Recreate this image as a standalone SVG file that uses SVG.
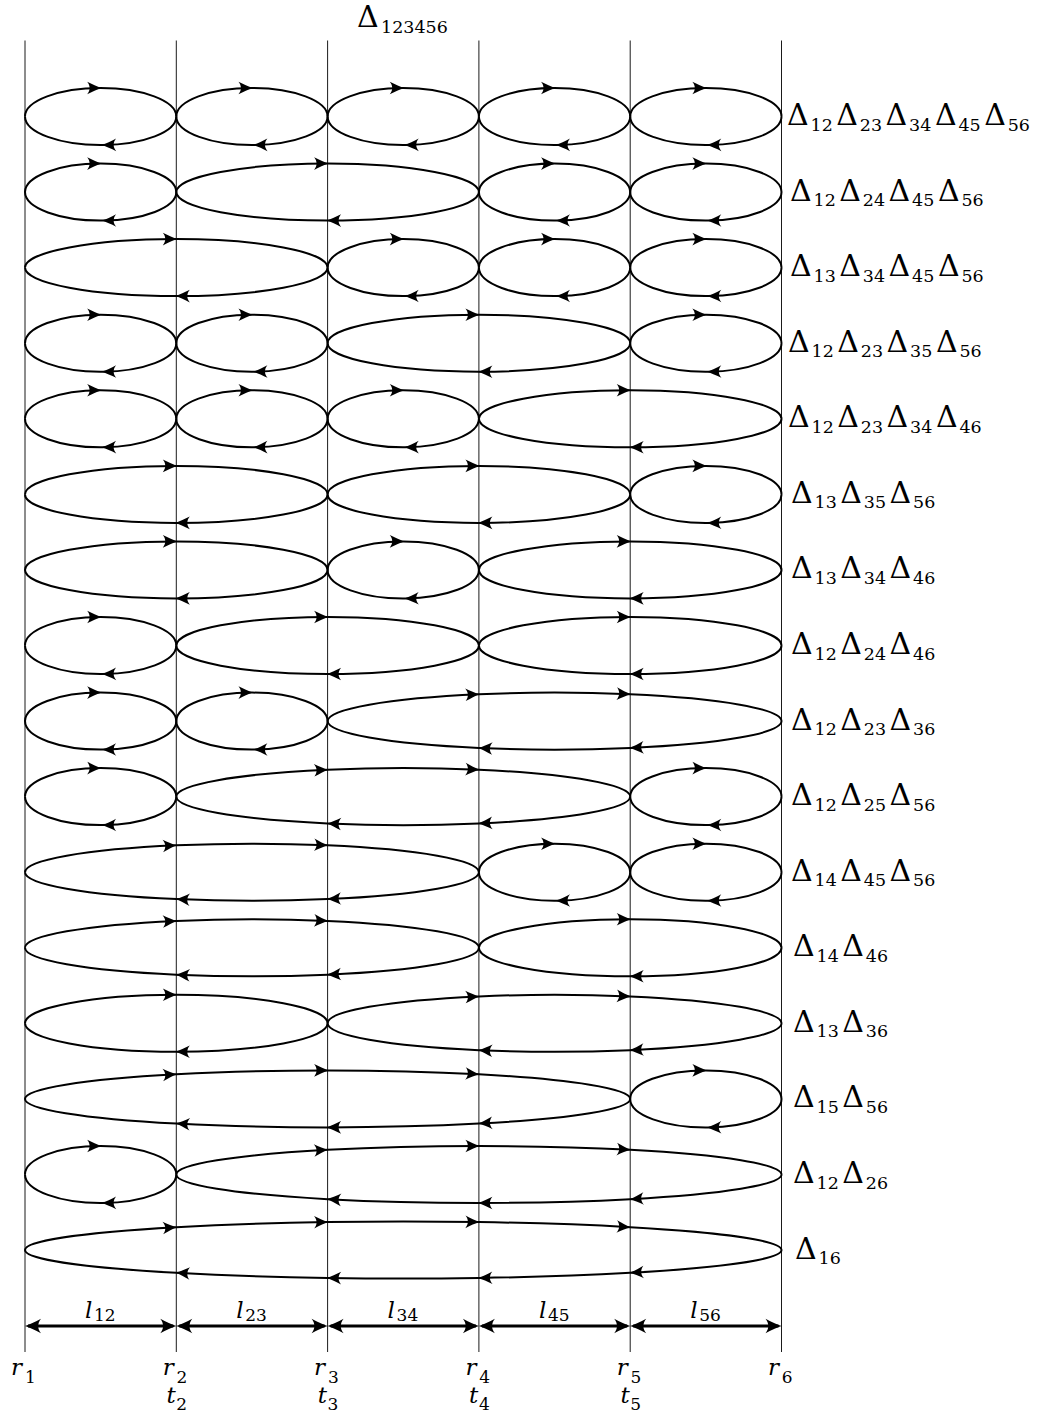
<svg xmlns="http://www.w3.org/2000/svg" width="1049" height="1414" viewBox="0 0 1049 1414">
<style>
.el{fill:none;stroke:#000;stroke-width:2;marker-mid:url(#ah)}
.vl{stroke:#000;stroke-width:0.9}
.dim{stroke:#000;stroke-width:3;marker-start:url(#dh);marker-end:url(#dh)}
.d{font-size:30px}
.s{font-size:17.5px}
.i{font-style:italic;font-size:23px}
.si{font-size:17px}
text{fill:#000}
</style>
<defs>
<marker id="ah" markerUnits="userSpaceOnUse" orient="auto" refX="0" refY="0" markerWidth="20" markerHeight="20" overflow="visible">
<path d="M0.8,0 C-3.5,-1.3 -8.5,-3.8 -13.5,-6.3 C-10.2,-2.4 -10.2,2.4 -13.5,6.3 C-8.5,3.8 -3.5,1.3 0.8,0 Z" fill="#000"/>
</marker>
<marker id="dh" markerUnits="userSpaceOnUse" orient="auto-start-reverse" refX="0" refY="0" markerWidth="20" markerHeight="20" overflow="visible">
<path d="M3,0 C-1,-1.4 -7.5,-4.3 -13,-7.3 C-9.3,-2.6 -9.3,2.6 -13,7.3 C-7.5,4.3 -1,1.4 3,0 Z" fill="#000"/>
</marker>
<g id="e1">
<path class="el" d="M0,0 A75.65,28.5 0 0 1 75.65,-28.5 A75.65,28.5 0 0 1 151.3,0"/>
<path class="el" d="M151.3,0 A75.65,28.5 0 0 1 77.65,28.49 A75.65,28.5 0 0 1 0,0"/>
</g>
<g id="e2">
<path class="el" d="M0,0 A151.3,28.5 0 0 1 151.3,-28.5 A151.3,28.5 0 0 1 302.6,0"/>
<path class="el" d="M302.6,0 A151.3,28.5 0 0 1 151.3,28.5 A151.3,28.5 0 0 1 0,0"/>
</g>
<g id="e3">
<path class="el" d="M0,0 A226.95,28.5 0 0 1 151.3,-26.87 A226.95,28.5 0 0 1 302.6,-26.87 A226.95,28.5 0 0 1 453.9,0"/>
<path class="el" d="M453.9,0 A226.95,28.5 0 0 1 302.6,26.87 A226.95,28.5 0 0 1 151.3,26.87 A226.95,28.5 0 0 1 0,0"/>
</g>
<g id="e4">
<path class="el" d="M0,0 A302.6,28.5 0 0 1 151.3,-24.68 A302.6,28.5 0 0 1 302.6,-28.5 A302.6,28.5 0 0 1 453.9,-24.68 A302.6,28.5 0 0 1 605.2,0"/>
<path class="el" d="M605.2,0 A302.6,28.5 0 0 1 453.9,24.68 A302.6,28.5 0 0 1 302.6,28.5 A302.6,28.5 0 0 1 151.3,24.68 A302.6,28.5 0 0 1 0,0"/>
</g>
<g id="e5">
<path class="el" d="M0,0 A378.25,28.5 0 0 1 151.3,-22.8 A378.25,28.5 0 0 1 302.6,-27.92 A378.25,28.5 0 0 1 453.9,-27.92 A378.25,28.5 0 0 1 605.2,-22.8 A378.25,28.5 0 0 1 756.5,0"/>
<path class="el" d="M756.5,0 A378.25,28.5 0 0 1 605.2,22.8 A378.25,28.5 0 0 1 453.9,27.92 A378.25,28.5 0 0 1 302.6,27.92 A378.25,28.5 0 0 1 151.3,22.8 A378.25,28.5 0 0 1 0,0"/>
</g>
</defs>
<rect width="1049" height="1414" fill="#fff"/>

<g id="grid">
<line class="vl" x1="25" y1="40.5" x2="25" y2="1352"/>
<line class="vl" x1="176.3" y1="40.5" x2="176.3" y2="1352"/>
<line class="vl" x1="327.6" y1="40.5" x2="327.6" y2="1352"/>
<line class="vl" x1="478.9" y1="40.5" x2="478.9" y2="1352"/>
<line class="vl" x1="630.2" y1="40.5" x2="630.2" y2="1352"/>
<line class="vl" x1="781.5" y1="40.5" x2="781.5" y2="1352"/>
</g>

<g id="labels">
<g id="title"><text font-family="'DejaVu Serif', serif"><tspan class="d" x="357" y="27">Δ</tspan><tspan class="s" x="381" y="32.5">123456</tspan></text></g>

<g id="row1" transform="translate(0,116.5)">
<use href="#e1" x="25"/><use href="#e1" x="176.3"/><use href="#e1" x="327.6"/><use href="#e1" x="478.9"/><use href="#e1" x="630.2"/>
<text font-family="'DejaVu Serif', serif"><tspan class="d" x="787" y="8.5">Δ</tspan><tspan class="s" x="810.5" y="14">12</tspan><tspan class="d" x="836.3" y="8.5">Δ</tspan><tspan class="s" x="859.8" y="14">23</tspan><tspan class="d" x="885.6" y="8.5">Δ</tspan><tspan class="s" x="909.1" y="14">34</tspan><tspan class="d" x="934.9" y="8.5">Δ</tspan><tspan class="s" x="958.4" y="14">45</tspan><tspan class="d" x="984.2" y="8.5">Δ</tspan><tspan class="s" x="1007.7" y="14">56</tspan></text>
</g>
<g id="row2" transform="translate(0,192.1)">
<use href="#e1" x="25"/><use href="#e2" x="176.3"/><use href="#e1" x="478.9"/><use href="#e1" x="630.2"/>
<text font-family="'DejaVu Serif', serif"><tspan class="d" x="790" y="8.5">Δ</tspan><tspan class="s" x="813.5" y="14">12</tspan><tspan class="d" x="839.3" y="8.5">Δ</tspan><tspan class="s" x="862.8" y="14">24</tspan><tspan class="d" x="888.6" y="8.5">Δ</tspan><tspan class="s" x="912.1" y="14">45</tspan><tspan class="d" x="937.9" y="8.5">Δ</tspan><tspan class="s" x="961.4" y="14">56</tspan></text>
</g>
<g id="row3" transform="translate(0,267.6)">
<use href="#e2" x="25"/><use href="#e1" x="327.6"/><use href="#e1" x="478.9"/><use href="#e1" x="630.2"/>
<text font-family="'DejaVu Serif', serif"><tspan class="d" x="790" y="8.5">Δ</tspan><tspan class="s" x="813.5" y="14">13</tspan><tspan class="d" x="839.3" y="8.5">Δ</tspan><tspan class="s" x="862.8" y="14">34</tspan><tspan class="d" x="888.6" y="8.5">Δ</tspan><tspan class="s" x="912.1" y="14">45</tspan><tspan class="d" x="937.9" y="8.5">Δ</tspan><tspan class="s" x="961.4" y="14">56</tspan></text>
</g>
<g id="row4" transform="translate(0,343.2)">
<use href="#e1" x="25"/><use href="#e1" x="176.3"/><use href="#e2" x="327.6"/><use href="#e1" x="630.2"/>
<text font-family="'DejaVu Serif', serif"><tspan class="d" x="788" y="8.5">Δ</tspan><tspan class="s" x="811.5" y="14">12</tspan><tspan class="d" x="837.3" y="8.5">Δ</tspan><tspan class="s" x="860.8" y="14">23</tspan><tspan class="d" x="886.6" y="8.5">Δ</tspan><tspan class="s" x="910.1" y="14">35</tspan><tspan class="d" x="935.9" y="8.5">Δ</tspan><tspan class="s" x="959.4" y="14">56</tspan></text>
</g>
<g id="row5" transform="translate(0,418.8)">
<use href="#e1" x="25"/><use href="#e1" x="176.3"/><use href="#e1" x="327.6"/><use href="#e2" x="478.9"/>
<text font-family="'DejaVu Serif', serif"><tspan class="d" x="788" y="8.5">Δ</tspan><tspan class="s" x="811.5" y="14">12</tspan><tspan class="d" x="837.3" y="8.5">Δ</tspan><tspan class="s" x="860.8" y="14">23</tspan><tspan class="d" x="886.6" y="8.5">Δ</tspan><tspan class="s" x="910.1" y="14">34</tspan><tspan class="d" x="935.9" y="8.5">Δ</tspan><tspan class="s" x="959.4" y="14">46</tspan></text>
</g>
<g id="row6" transform="translate(0,494.4)">
<use href="#e2" x="25"/><use href="#e2" x="327.6"/><use href="#e1" x="630.2"/>
<text font-family="'DejaVu Serif', serif"><tspan class="d" x="791" y="8.5">Δ</tspan><tspan class="s" x="814.5" y="14">13</tspan><tspan class="d" x="840.3" y="8.5">Δ</tspan><tspan class="s" x="863.8" y="14">35</tspan><tspan class="d" x="889.6" y="8.5">Δ</tspan><tspan class="s" x="913.1" y="14">56</tspan></text>
</g>
<g id="row7" transform="translate(0,569.9)">
<use href="#e2" x="25"/><use href="#e1" x="327.6"/><use href="#e2" x="478.9"/>
<text font-family="'DejaVu Serif', serif"><tspan class="d" x="791" y="8.5">Δ</tspan><tspan class="s" x="814.5" y="14">13</tspan><tspan class="d" x="840.3" y="8.5">Δ</tspan><tspan class="s" x="863.8" y="14">34</tspan><tspan class="d" x="889.6" y="8.5">Δ</tspan><tspan class="s" x="913.1" y="14">46</tspan></text>
</g>
<g id="row8" transform="translate(0,645.5)">
<use href="#e1" x="25"/><use href="#e2" x="176.3"/><use href="#e2" x="478.9"/>
<text font-family="'DejaVu Serif', serif"><tspan class="d" x="791" y="8.5">Δ</tspan><tspan class="s" x="814.5" y="14">12</tspan><tspan class="d" x="840.3" y="8.5">Δ</tspan><tspan class="s" x="863.8" y="14">24</tspan><tspan class="d" x="889.6" y="8.5">Δ</tspan><tspan class="s" x="913.1" y="14">46</tspan></text>
</g>
<g id="row9" transform="translate(0,721.1)">
<use href="#e1" x="25"/><use href="#e1" x="176.3"/><use href="#e3" x="327.6"/>
<text font-family="'DejaVu Serif', serif"><tspan class="d" x="791" y="8.5">Δ</tspan><tspan class="s" x="814.5" y="14">12</tspan><tspan class="d" x="840.3" y="8.5">Δ</tspan><tspan class="s" x="863.8" y="14">23</tspan><tspan class="d" x="889.6" y="8.5">Δ</tspan><tspan class="s" x="913.1" y="14">36</tspan></text>
</g>
<g id="row10" transform="translate(0,796.6)">
<use href="#e1" x="25"/><use href="#e3" x="176.3"/><use href="#e1" x="630.2"/>
<text font-family="'DejaVu Serif', serif"><tspan class="d" x="791" y="8.5">Δ</tspan><tspan class="s" x="814.5" y="14">12</tspan><tspan class="d" x="840.3" y="8.5">Δ</tspan><tspan class="s" x="863.8" y="14">25</tspan><tspan class="d" x="889.6" y="8.5">Δ</tspan><tspan class="s" x="913.1" y="14">56</tspan></text>
</g>
<g id="row11" transform="translate(0,872.2)">
<use href="#e3" x="25"/><use href="#e1" x="478.9"/><use href="#e1" x="630.2"/>
<text font-family="'DejaVu Serif', serif"><tspan class="d" x="791" y="8.5">Δ</tspan><tspan class="s" x="814.5" y="14">14</tspan><tspan class="d" x="840.3" y="8.5">Δ</tspan><tspan class="s" x="863.8" y="14">45</tspan><tspan class="d" x="889.6" y="8.5">Δ</tspan><tspan class="s" x="913.1" y="14">56</tspan></text>
</g>
<g id="row12" transform="translate(0,947.8)">
<use href="#e3" x="25"/><use href="#e2" x="478.9"/>
<text font-family="'DejaVu Serif', serif"><tspan class="d" x="793" y="8.5">Δ</tspan><tspan class="s" x="816.5" y="14">14</tspan><tspan class="d" x="842.3" y="8.5">Δ</tspan><tspan class="s" x="865.8" y="14">46</tspan></text>
</g>
<g id="row13" transform="translate(0,1023.3)">
<use href="#e2" x="25"/><use href="#e3" x="327.6"/>
<text font-family="'DejaVu Serif', serif"><tspan class="d" x="793" y="8.5">Δ</tspan><tspan class="s" x="816.5" y="14">13</tspan><tspan class="d" x="842.3" y="8.5">Δ</tspan><tspan class="s" x="865.8" y="14">36</tspan></text>
</g>
<g id="row14" transform="translate(0,1098.9)">
<use href="#e4" x="25"/><use href="#e1" x="630.2"/>
<text font-family="'DejaVu Serif', serif"><tspan class="d" x="793" y="8.5">Δ</tspan><tspan class="s" x="816.5" y="14">15</tspan><tspan class="d" x="842.3" y="8.5">Δ</tspan><tspan class="s" x="865.8" y="14">56</tspan></text>
</g>
<g id="row15" transform="translate(0,1174.5)">
<use href="#e1" x="25"/><use href="#e4" x="176.3"/>
<text font-family="'DejaVu Serif', serif"><tspan class="d" x="793" y="8.5">Δ</tspan><tspan class="s" x="816.5" y="14">12</tspan><tspan class="d" x="842.3" y="8.5">Δ</tspan><tspan class="s" x="865.8" y="14">26</tspan></text>
</g>
<g id="row16" transform="translate(0,1250)">
<use href="#e5" x="25"/>
<text font-family="'DejaVu Serif', serif"><tspan class="d" x="795" y="8.5">Δ</tspan><tspan class="s" x="818.5" y="14">16</tspan></text>
</g>

<g id="lengths">
<text font-family="'DejaVu Serif', serif"><tspan class="i" x="85" y="1318">l</tspan><tspan class="si" x="94" y="1321">12</tspan></text>
<text font-family="'DejaVu Serif', serif"><tspan class="i" x="236.3" y="1318">l</tspan><tspan class="si" x="245.3" y="1321">23</tspan></text>
<text font-family="'DejaVu Serif', serif"><tspan class="i" x="387.6" y="1318">l</tspan><tspan class="si" x="396.6" y="1321">34</tspan></text>
<text font-family="'DejaVu Serif', serif"><tspan class="i" x="538.9" y="1318">l</tspan><tspan class="si" x="547.9" y="1321">45</tspan></text>
<text font-family="'DejaVu Serif', serif"><tspan class="i" x="690.2" y="1318">l</tspan><tspan class="si" x="699.2" y="1321">56</tspan></text>
</g>

<g id="points">
<text font-family="'DejaVu Serif', serif"><tspan class="i" x="11" y="1375">r</tspan><tspan class="si" x="25" y="1383">1</tspan></text>
<text font-family="'DejaVu Serif', serif"><tspan class="i" x="162.8" y="1375">r</tspan><tspan class="si" x="176.6" y="1383">2</tspan></text>
<text font-family="'DejaVu Serif', serif"><tspan class="i" x="314.1" y="1375">r</tspan><tspan class="si" x="327.9" y="1383">3</tspan></text>
<text font-family="'DejaVu Serif', serif"><tspan class="i" x="465.4" y="1375">r</tspan><tspan class="si" x="479.2" y="1383">4</tspan></text>
<text font-family="'DejaVu Serif', serif"><tspan class="i" x="616.7" y="1375">r</tspan><tspan class="si" x="630.5" y="1383">5</tspan></text>
<text font-family="'DejaVu Serif', serif"><tspan class="i" x="768" y="1375">r</tspan><tspan class="si" x="781.8" y="1383">6</tspan></text>
<text font-family="'DejaVu Serif', serif"><tspan class="i" x="166.5" y="1403">t</tspan><tspan class="si" x="176.3" y="1410">2</tspan></text>
<text font-family="'DejaVu Serif', serif"><tspan class="i" x="317.8" y="1403">t</tspan><tspan class="si" x="327.6" y="1410">3</tspan></text>
<text font-family="'DejaVu Serif', serif"><tspan class="i" x="469.1" y="1403">t</tspan><tspan class="si" x="478.9" y="1410">4</tspan></text>
<text font-family="'DejaVu Serif', serif"><tspan class="i" x="620.4" y="1403">t</tspan><tspan class="si" x="630.2" y="1410">5</tspan></text>
</g>
</g>

<g id="connectors">
<line class="dim" x1="28" y1="1326" x2="173.3" y2="1326"/>
<line class="dim" x1="179.3" y1="1326" x2="324.6" y2="1326"/>
<line class="dim" x1="330.6" y1="1326" x2="475.9" y2="1326"/>
<line class="dim" x1="481.9" y1="1326" x2="627.2" y2="1326"/>
<line class="dim" x1="633.2" y1="1326" x2="778.5" y2="1326"/>
</g>
</svg>
